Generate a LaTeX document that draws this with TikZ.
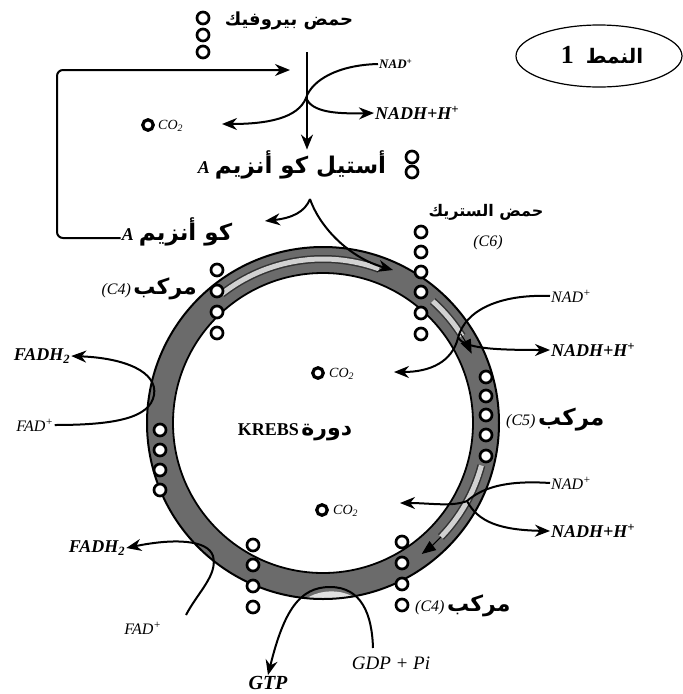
\documentclass[tikz,border=0pt]{standalone}
\usepackage{fontspec}
\setmainfont{Liberation Serif}
\newfontfamily\arabicfont[Script=Arabic]{DejaVu Sans}
\TeXXeTstate=1
\usetikzlibrary{arrows.meta,shapes.geometric}
\begin{document}
\begin{tikzpicture}[x=1pt,y=-1pt,
  mol/.style={circle,draw,line width=2.7pt,fill=white,inner sep=0pt,minimum size=12pt},
  codot/.style={circle,draw,line width=3.2pt,fill=white,inner sep=0pt,minimum size=10.5pt},
  arlab/.style={font=\arabicfont\bfseries\fontsize{17}{20}\selectfont,inner sep=1pt},
  chem/.style={font=\itshape\bfseries\fontsize{18}{20}\selectfont,inner sep=1pt},
  chemthin/.style={font=\itshape\fontsize{16}{18}\selectfont,inner sep=1pt},
  cotext/.style={font=\itshape\fontsize{14}{16}\selectfont,inner sep=1pt},
  conn/.style={line width=2pt,-{Stealth[length=15pt,width=12pt]}},
  ringfill/.style={fill=black!58},
  stripe/.style={line width=8pt,black!80},
  stripein/.style={line width=5pt,black!18},
  stripetip/.style={line width=1pt,-{Triangle[length=14pt,width=11pt]}},
]
\fill[white] (0,0) rectangle (683,694);
\useasboundingbox (0,0) rectangle (683,694);

% ---- ring ----
\coordinate (c) at (323,423);
\fill[ringfill,even odd rule] (c) circle[radius=176] (c) circle[radius=150];
\begin{scope}
  \clip (c) circle[radius=176];
  \fill[black!12] (296,612) .. controls (304,586) and (356,583) .. (366,612) -- cycle;
\end{scope}
\draw[line width=2pt] (c) circle[radius=176];
\draw[line width=1.8pt] (c) circle[radius=150];

\begin{scope}[shift={(323,423)}]
  \draw[stripe] (-128:164) arc[start angle=-128,end angle=-70,radius=164];
  \draw[stripein] (-128:164) arc[start angle=-128,end angle=-70,radius=164];
  \draw[stripe] (-48:164) arc[start angle=-48,end angle=-32,radius=164];
  \draw[stripein] (-48:164) arc[start angle=-48,end angle=-32,radius=164];
  \draw[stripetip] (-33:164) arc[start angle=-33,end angle=-25,radius=164];
  \draw[stripe] (15:164) arc[start angle=15,end angle=44,radius=164];
  \draw[stripein] (15:164) arc[start angle=15,end angle=44,radius=164];
  \draw[stripetip] (44:164) arc[start angle=44,end angle=53,radius=164];
\end{scope}

% ---- top part ----
\node[arlab,font=\arabicfont\bfseries\fontsize{18}{21}\selectfont] (pyr) at (289,21) {\beginR حمض بيروفيك\endR};
\node[mol] (p1) at (203,18) {};
\node[mol] (p2) at (203,35) {};
\node[mol] (p3) at (203,52) {};

\node[draw,ellipse,line width=1.2pt,minimum width=166pt,minimum height=62pt] (ell) at (599,56) {};
\node (patt) at (602,55) {{\bfseries\fontsize{26}{26}\selectfont 1}\hspace{12pt}{\arabicfont\bfseries\fontsize{20}{22}\selectfont\beginR النمط\endR}};

\node[chem,anchor=west,font=\itshape\bfseries\fontsize{13}{15}\selectfont] (nadA) at (378,64) {NAD\textsuperscript{+}};
\node[chem,anchor=west] (nadhA) at (374,113) {NADH+H\textsuperscript{+}};
\node[codot] (co2a) at (148,125) {};
\node[cotext,anchor=west] (co2at) at (157,126) {CO\textsubscript{2}};
\coordinate (co2atip) at (222,124);

\node[inner sep=1pt] (acet) at (292,165) {{\itshape\bfseries\fontsize{18}{20}\selectfont A}\hspace{5pt}{\arabicfont\bfseries\fontsize{23}{26}\selectfont\beginR أستيل كو أنزيم\endR}};
\node[mol] (ac1) at (412,157) {};
\node[mol] (ac2) at (412,172) {};
\node[inner sep=1pt] (coa) at (177,232) {{\itshape\bfseries\fontsize{18}{20}\selectfont A}\hspace{5pt}{\arabicfont\bfseries\fontsize{23}{26}\selectfont\beginR كو أنزيم\endR}};

\coordinate (vtop) at (307,52);
\coordinate (pyrin) at (290,70);
\coordinate (cx) at (306,98);
\draw[conn] (vtop) -- (vtop |- acet.north);
\draw[conn,rounded corners=6pt] (coa.west |- 0,238) -- (57,238) -- (57,70) -- (pyrin);
\draw[conn] (nadA.west) .. controls (338,65) and (312,80) .. (cx) .. controls (298,118) and (268,124) .. (co2atip);
\draw[conn] (cx) .. controls (312,112) and (335,114) .. (nadhA.west);

% acetyl-CoA into the cycle
\coordinate (apk) at (310,199);
\coordinate (coatip) at (265,221);
\coordinate (ringA) at (393,270);
\draw[conn] (apk) .. controls (305,212) and (292,218) .. (coatip);
\draw[conn] (apk) .. controls (320,228) and (350,258) .. (ringA);

% ---- citrate ----
\node[arlab,font=\arabicfont\bfseries\fontsize{16}{18}\selectfont] (cit) at (486,212) {\beginR حمض الستريك\endR};
\node[chemthin] (c6) at (488,243) {(C6)};
\foreach \yy [count=\i] in {232,252,272,292,313,334} \node[mol] (ci\i) at (421,\yy) {};

% ---- upper right NAD ----
\node[chemthin,anchor=west] (nadB) at (550,296) {NAD\textsuperscript{+}};
\node[chem,anchor=west] (nadhB) at (550,350) {NADH+H\textsuperscript{+}};
\node[codot] (co2b) at (318,373) {};
\node[cotext,anchor=west] (co2bt) at (328,374) {CO\textsubscript{2}};
\coordinate (co2btip) at (394,372);
\coordinate (xB) at (458,338);
\draw[conn] (nadB.west) .. controls (500,294) and (465,310) .. (xB) .. controls (452,362) and (430,372) .. (co2btip);
\draw[conn] (xB) .. controls (466,348) and (490,350) .. (nadhB.west);

% ---- C5 ----
\foreach \yy [count=\i] in {377,396,415,435,456} \node[mol] (cf\i) at (486,\yy) {};
\node[anchor=west,inner sep=1pt] (c5) at (505,420) {{\itshape\fontsize{16}{18}\selectfont (C5)}\ {\arabicfont\bfseries\fontsize{23}{26}\selectfont\beginR مركب\endR}};

% ---- lower right NAD ----
\node[chemthin,anchor=west] (nadC) at (550,483) {NAD\textsuperscript{+}};
\node[chem,anchor=west] (nadhC) at (550,531) {NADH+H\textsuperscript{+}};
\node[codot] (co2c) at (322,510) {};
\node[cotext,anchor=west] (co2ct) at (332,511) {CO\textsubscript{2}};
\coordinate (co2ctip) at (400,503);
\coordinate (xC) at (467,501);
\draw[conn] (nadC.west) .. controls (505,480) and (482,488) .. (xC) .. controls (452,507) and (430,503) .. (co2ctip);
\draw[conn] (xC) .. controls (478,522) and (500,530) .. (nadhC.west);

% ---- lower right C4 ----
\foreach \yy [count=\i] in {542,563,584,605} \node[mol] (cg\i) at (402,\yy) {};
\node[anchor=west,inner sep=1pt] (c4b) at (414,606) {{\itshape\fontsize{16}{18}\selectfont (C4)}\ {\arabicfont\bfseries\fontsize{22}{25}\selectfont\beginR مركب\endR}};

% ---- GTP ----
\node[chem,font=\itshape\bfseries\fontsize{20}{22}\selectfont] (gtp) at (268,683) {GTP};
\node[chemthin,font=\itshape\fontsize{19}{21}\selectfont] (gdp) at (391,663) {GDP + Pi};
\coordinate (gdps) at (373,648);
\draw[conn] (gdps) .. controls (372,615) and (362,587) .. (330,587) .. controls (300,587) and (284,610) .. (gtp.north);
\foreach \yy [count=\i] in {545,565,586,607} \node[mol] (ch\i) at (253,\yy) {};

% ---- lower left FAD ----
\node[chem] (fadhB) at (97,548) {FADH\textsubscript{2}};
\node[chemthin] (fadB) at (143,628) {FAD\textsuperscript{+}};
\coordinate (fadBs) at (186,615);
\draw[conn] (fadBs) .. controls (198,592) and (218,575) .. (213,556) .. controls (208,540) and (175,538) .. (fadhB.east);

% ---- left column ----
\foreach \yy [count=\i] in {430,450,470,490} \node[mol] (cl\i) at (160,\yy) {};

% ---- upper left FAD ----
\node[chem] (fadhA) at (42,356) {FADH\textsubscript{2}};
\node[chemthin] (fadA) at (35,425) {FAD\textsuperscript{+}};
\draw[conn] (fadA.east) .. controls (115,425) and (150,418) .. (154,395) .. controls (158,372) and (125,358) .. (fadhA.east);

% ---- upper left C4 ----
\foreach \yy [count=\i] in {270,291,312,333} \node[mol] (cu\i) at (217,\yy) {};
\node[anchor=east,inner sep=1pt] (c4a) at (198,289) {{\itshape\fontsize{16}{18}\selectfont (C4)}\ {\arabicfont\bfseries\fontsize{22}{25}\selectfont\beginR مركب\endR}};

% ---- centre ----
\node (krebs) at (295,432) {{\bfseries\fontsize{18}{20}\selectfont KREBS}\ {\arabicfont\bfseries\fontsize{22}{25}\selectfont\beginR دورة\endR}};
\end{tikzpicture}
\end{document}
